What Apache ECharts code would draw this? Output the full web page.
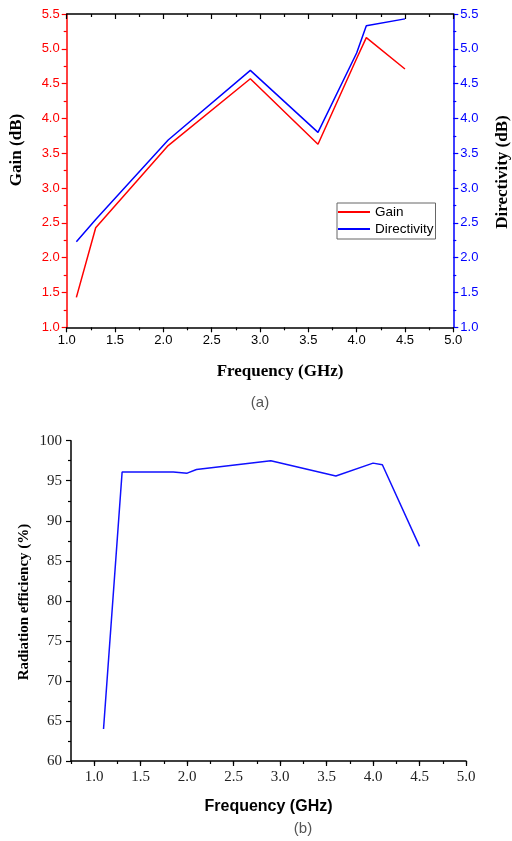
<!DOCTYPE html>
<html>
<head>
<meta charset="utf-8">
<script src="https://cdn.jsdelivr.net/npm/echarts@6/dist/echarts.min.js"></script>
<style>html,body{margin:0;padding:0;background:#fff}#c{width:512px;height:841px}</style>
</head>
<body>
<div id="c"></div>
<script>
// (a) Gain and directivity
const freqA = [1.1, 1.3, 2.05, 2.9, 3.6, 4.0, 4.1, 4.5];
const gain = [1.43, 2.43, 3.61, 4.57, 3.63, 4.86, 5.16, 4.71];
const directivity = [2.23, 2.55, 3.69, 4.69, 3.80, 4.94, 5.33, 5.43];
// (b) Radiation efficiency
const freqB = [1.1, 1.3, 1.85, 2.0, 2.1, 2.9, 3.6, 4.0, 4.1, 4.5];
const efficiency = [64.0, 96.1, 96.1, 95.95, 96.4, 97.5, 95.6, 97.2, 97.0, 86.8];
const majorTicksB = [1.0, 1.5, 2.0, 2.5, 3.0, 3.5, 4.0, 4.5, 5.0];

const pairs = (xs, ys) => xs.map((x, i) => [x, ys[i]]);
const SANS = 'Liberation Sans';
const SERIF = 'Liberation Serif';
const fmt1 = v => v.toFixed(1);
const LINE_ICON = 'path://M0,0 L32,0 L32,2 L0,2 Z';

const chart = echarts.init(document.getElementById('c'), null, {renderer: 'canvas'});
chart.setOption({
  animation: false,
  backgroundColor: '#fff',
  grid: [
    {left: 66.7, top: 14, width: 386.6, height: 313.3},
    {left: 71, top: 440.7, width: 395, height: 320.3}
  ],
  legend: {
    data: [{name: 'Gain', icon: LINE_ICON}, {name: 'Directivity', icon: LINE_ICON}],
    orient: 'vertical',
    left: 337, top: 203,
    itemWidth: 32, itemHeight: 2, itemGap: 3, itemTextGap: 4,
    padding: [2, 2, 3, 1],
    borderColor: '#666', borderWidth: 1,
    textStyle: {fontFamily: SANS, fontSize: 13.5, color: '#000', lineHeight: 14}
  },
  xAxis: [
    {
      gridIndex: 0, type: 'value', min: 1, max: 5, interval: 0.5, position: 'bottom',
      axisLine: {lineStyle: {color: '#000', width: 1.5}},
      axisTick: {length: 5, lineStyle: {color: '#000', width: 1.2}},
      minorTick: {show: true, splitNumber: 2, length: 3, lineStyle: {color: '#000', width: 1.2}},
      axisLabel: {formatter: fmt1, fontFamily: SANS, fontSize: 13, color: '#000', margin: 7},
      splitLine: {show: false}
    },
    {
      gridIndex: 0, type: 'value', min: 1, max: 5, interval: 0.5, position: 'top',
      axisLine: {lineStyle: {color: '#000', width: 1.5}},
      axisTick: {inside: true, length: 5, lineStyle: {color: '#000', width: 1.2}},
      minorTick: {show: true, splitNumber: 2, length: 3, lineStyle: {color: '#000', width: 1.2}},
      axisLabel: {show: false},
      splitLine: {show: false}
    },
    {
      gridIndex: 1, type: 'value', min: 0.75, max: 5, interval: 0.25, position: 'bottom',
      axisLine: {lineStyle: {color: '#000', width: 1.5}},
      axisTick: {length: 3, lineStyle: {color: '#000', width: 1.2}},
      axisLabel: {
        fontFamily: SERIF, fontSize: 15, color: '#222', margin: 9,
        formatter: v => (Math.abs(v * 2 - Math.round(v * 2)) < 1e-6 ? v.toFixed(1) : '')
      },
      splitLine: {show: false},
      name: 'Frequency (GHz)', nameLocation: 'middle', nameGap: 38,
      nameTextStyle: {fontFamily: SANS, fontWeight: 'bold', fontSize: 16, color: '#000'}
    },
    {
      gridIndex: 1, type: 'value', min: 0.75, max: 5, position: 'bottom',
      axisLine: {show: false},
      axisTick: {length: 5, customValues: majorTicksB, lineStyle: {color: '#000', width: 1.2}},
      axisLabel: {show: false},
      splitLine: {show: false}
    }
  ],
  yAxis: [
    {
      gridIndex: 0, type: 'value', min: 1, max: 5.5, interval: 0.5, position: 'left',
      axisLine: {show: true, lineStyle: {color: '#ff0000', width: 1.5}},
      axisTick: {show: true, length: 5, lineStyle: {color: '#ff0000', width: 1.2}},
      minorTick: {show: true, splitNumber: 2, length: 3, lineStyle: {color: '#ff0000', width: 1.2}},
      axisLabel: {formatter: fmt1, fontFamily: SANS, fontSize: 13, color: '#ff0000', margin: 7},
      splitLine: {show: false}
    },
    {
      gridIndex: 0, type: 'value', min: 1, max: 5.5, interval: 0.5, position: 'right',
      axisLine: {show: true, lineStyle: {color: '#0000ff', width: 1.5}},
      axisTick: {show: true, length: 5, lineStyle: {color: '#0000ff', width: 1.2}},
      minorTick: {show: true, splitNumber: 2, length: 3, lineStyle: {color: '#0000ff', width: 1.2}},
      axisLabel: {formatter: fmt1, fontFamily: SANS, fontSize: 13, color: '#0000ff', margin: 7},
      splitLine: {show: false}
    },
    {
      gridIndex: 1, type: 'value', min: 60, max: 100, interval: 5, position: 'left',
      axisLine: {show: true, lineStyle: {color: '#000', width: 1.5}},
      axisTick: {show: true, length: 5, lineStyle: {color: '#000', width: 1.2}},
      minorTick: {show: true, splitNumber: 2, length: 3, lineStyle: {color: '#000', width: 1.2}},
      axisLabel: {fontFamily: SERIF, fontSize: 15, color: '#222', margin: 9},
      splitLine: {show: false}
    }
  ],
  series: [
    {
      name: 'Gain', type: 'line', xAxisIndex: 0, yAxisIndex: 0,
      data: pairs(freqA, gain), symbol: 'none', color: '#ff0000',
      lineStyle: {color: '#ff0000', width: 1.5}
    },
    {
      name: 'Directivity', type: 'line', xAxisIndex: 0, yAxisIndex: 1,
      data: pairs(freqA, directivity), symbol: 'none', color: '#0000ff',
      lineStyle: {color: '#0000ff', width: 1.5}
    },
    {
      name: 'Radiation efficiency', type: 'line', xAxisIndex: 2, yAxisIndex: 2,
      data: pairs(freqB, efficiency), symbol: 'none', color: '#0000ff',
      lineStyle: {color: '#1010ff', width: 1.5}
    }
  ],
  graphic: [
    {type: 'text', x: 280, y: 372, style: {text: 'Frequency (GHz)', font: 'bold 17px "Liberation Serif"', fill: '#000', textAlign: 'center', textVerticalAlign: 'middle'}},
    {type: 'text', x: 17, y: 150, rotation: Math.PI / 2, style: {text: 'Gain (dB)', font: 'bold 17px "Liberation Serif"', fill: '#000', textAlign: 'center', textVerticalAlign: 'middle'}},
    {type: 'text', x: 503, y: 172, rotation: Math.PI / 2, style: {text: 'Directivity (dB)', font: 'bold 17px "Liberation Serif"', fill: '#000', textAlign: 'center', textVerticalAlign: 'middle'}},
    {type: 'text', x: 24, y: 602, rotation: Math.PI / 2, style: {text: 'Radiation efficiency (%)', font: 'bold 15px "Liberation Serif"', fill: '#000', textAlign: 'center', textVerticalAlign: 'middle'}},
    {type: 'text', x: 260, y: 403, style: {text: '(a)', font: '15px "Liberation Sans"', fill: '#555', textAlign: 'center', textVerticalAlign: 'middle'}},
    {type: 'text', x: 303, y: 829, style: {text: '(b)', font: '15px "Liberation Sans"', fill: '#555', textAlign: 'center', textVerticalAlign: 'middle'}}
  ]
});
</script>
</body>
</html>
